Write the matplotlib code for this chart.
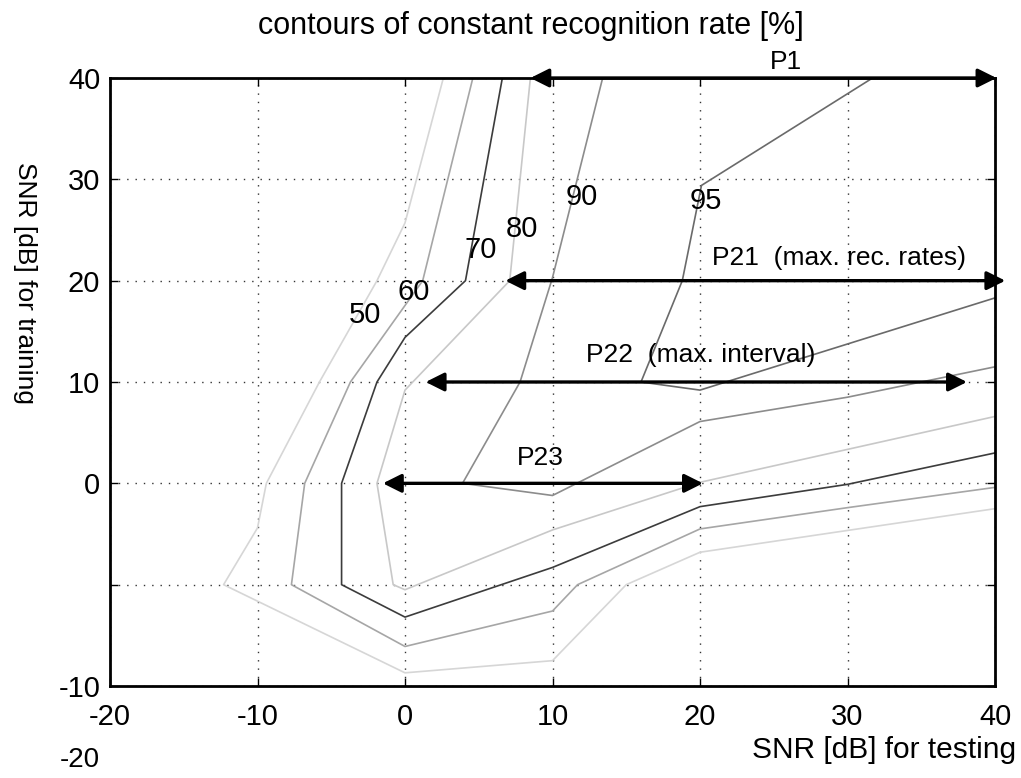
import matplotlib
matplotlib.use('Agg')
import matplotlib.pyplot as plt

plt.rcParams['font.family'] = ['Liberation Sans', 'DejaVu Sans']
plt.rcParams['axes.unicode_minus'] = False

# contour lines of constant recognition rate (x = SNR testing, y = SNR training)
levels = ['50', '60', '70', '80', '90', '95']

c50_x = [2.6, 0.0, -1.9, -5.8, -9.4, -10.0, -12.3, 0.0, 10.0, 15.0, 20.0, 40.0]
c50_y = [40, 25.7, 20, 10, 0, -4.4, -10, -18.7, -17.5, -10, -6.8, -2.5]

c60_x = [4.6, 1.2, -3.7, -6.8, -7.7, 0.0, 10.0, 11.7, 20.0, 30.0, 40.0]
c60_y = [40, 20, 10, 0, -10, -16.1, -12.6, -10, -4.5, -2.4, -0.4]

c70_x = [6.6, 4.1, 0.0, -1.9, -4.3, -4.3, 0.0, 10.0, 20.0, 30.0, 40.0]
c70_y = [40, 20, 14.4, 10, 0, -10, -13.2, -8.3, -2.3, -0.1, 3.0]

c80_x = [8.5, 7.1, 0.0, -1.9, -0.8, 0.0, 10.0, 20.0, 40.0]
c80_y = [40, 20, 9.2, 0, -10, -10.5, -4.6, 0.1, 6.6]

c90_x = [13.4, 10.0, 7.8, 3.9, 10.0, 20.0, 30.0, 40.0]
c90_y = [40, 20.3, 10, 0, -1.2, 6.1, 8.5, 11.5]

c95_x = [31.7, 20.1, 18.8, 16.0, 20.0, 40.0]
c95_y = [40, 29.4, 20, 10, 9.2, 18.3]

# where the level numbers sit
label_x = [-2.7, 0.6, 5.15, 7.9, 12.0, 20.4]
label_y = [16.6, 18.9, 23.0, 25.1, 28.25, 27.9]

# operating ranges P1 .. P23 (start, end, height)
arrow_names = ['P1', 'P21  (max. rec. rates)', 'P22  (max. interval)', 'P23']
arrow_x0 = [8.5, 6.8, 1.4, -1.5]
arrow_x1 = [40.1, 40.7, 38.1, 20.2]
arrow_y = [40, 20, 10, 0]

xticks = [-20, -10, 0, 10, 20, 30, 40]
yticks = [-20, -10, 0, 10, 20, 30, 40]
ytick_labels = ['-10', '', '0', '10', '20', '30', '40']

fig = plt.figure(figsize=(10.21, 7.78), dpi=100)
ax = fig.add_axes([110/1021, 1 - 686/778, 885/1021, 608/778])

contours = [(c50_x, c50_y), (c60_x, c60_y), (c70_x, c70_y),
            (c80_x, c80_y), (c90_x, c90_y), (c95_x, c95_y)]
greys = ['#d6d6d6', '#a6a6a6', '#3c3c3c', '#c8c8c8', '#8c8c8c', '#6a6a6a']

for (cx, cy), col in zip(contours, greys):
    ax.plot(cx, cy, color=col, lw=1.2, zorder=2)

for lab, lx, ly in zip(levels, label_x, label_y):
    ax.text(lx, ly, lab, fontsize=21, ha='center', va='center', zorder=4)

for name, x0, x1, y in zip(arrow_names, arrow_x0, arrow_x1, arrow_y):
    ax.annotate('', xy=(x1, y), xytext=(x0, y), annotation_clip=False,
                arrowprops=dict(arrowstyle='<|-|>', color='black', lw=2.4,
                                mutation_scale=28, shrinkA=0, shrinkB=0),
                zorder=5)

ax.text(25.8, 41.6, arrow_names[0], fontsize=19, ha='center', va='center')
ax.text(20.8, 22.2, arrow_names[1], fontsize=19, ha='left', va='center')
ax.text(12.3, 12.65, arrow_names[2], fontsize=19, ha='left', va='center')
ax.text(7.6, 2.5, arrow_names[3], fontsize=19, ha='left', va='center')

ax.set_xlim(-20, 40)
ax.set_ylim(-20, 40)
ax.set_xticks(xticks)
ax.set_yticks(yticks)
ax.set_yticklabels(ytick_labels)
ax.tick_params(direction='in', length=6, width=1, top=True, right=True,
               labelsize=21)
ax.tick_params(axis='x', pad=12)
ax.tick_params(axis='y', pad=7)
ax.grid(True, color='#333333', linestyle=(0, (1, 5)), lw=1.0)
for sp in ax.spines.values():
    sp.set_linewidth(2)

fig.text(531/1021, 1 - 26/778, 'contours of constant recognition rate [%]',
         fontsize=22, ha='center', va='center')
fig.text(1016/1021, 1 - 750/778, 'SNR [dB] for testing', fontsize=21.5,
         ha='right', va='center')
fig.text(25/1021, 1 - 283/778, 'SNR [dB] for training', fontsize=19,
         ha='center', va='center', rotation=-90)
fig.text(80/1021, 1 - 760/778, '-20', fontsize=20, ha='center', va='center')

fig.savefig('out.png', dpi=100)
